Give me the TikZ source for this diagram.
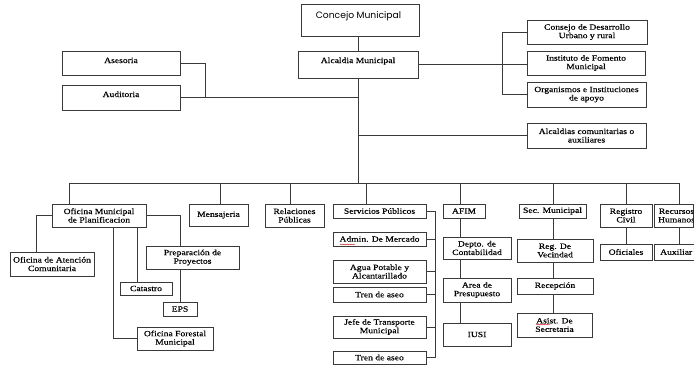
\documentclass[tikz,border=0pt]{standalone}
\usepackage{fontspec}
\setmainfont{Liberation Serif}[FakeStretch=1.2, FakeBold=0.4]
\newfontfamily\gothfont{Poppins}
\usetikzlibrary{decorations.pathmorphing}
\definecolor{ln}{HTML}{3A3A3A}
\begin{document}
\begin{tikzpicture}[x=1pt,y=-1pt,
  box/.style={draw=ln, line width=0.9pt, fill=white, inner sep=1pt, align=center,
              font=\fontsize{8}{8.5}\selectfont, text=black},
  sz/.style 2 args={minimum width=#1, minimum height=#2},
  lbl/.style={inner sep=0pt, align=center, font=\fontsize{8}{8.5}\selectfont, text=black},
  con/.style={draw=ln, line width=0.8pt},
  squig/.style={draw=red!80!black, line width=0.35pt, decorate,
                decoration={snake, amplitude=0.5pt, segment length=2.2pt}}]
\fill[white] (0,0) rectangle (694,365);
\clip (0,0) rectangle (694,365);

% ---- top ----
\node[box, sz={118}{32}] (concejo) at (360,20) {};
\node[lbl, anchor=base, font=\gothfont\fontsize{9.2}{10}\selectfont] (concejoT) at (358.5,18) {Concejo Municipal};
\node[box, sz={120}{27}] (alcaldia) at (358,64.5) {};
\node[lbl, anchor=base] (alcaldiaT) at (358,63) {Alcaldia Municipal};
\node[box, sz={118}{24}] (asesoria) at (121,63) {};
\node[lbl, anchor=base] (asesoriaT) at (121,63) {Asesoria};
\node[box, sz={118}{25}] (auditoria) at (121,97.5) {};
\node[lbl, anchor=base] (auditoriaT) at (121,97) {Auditoria};

\node[box, sz={120}{24}] (consejo) at (587,32) {Consejo de Desarrollo\\Urbano y rural};
\node[box, sz={118}{24}] (instituto) at (586,63) {Instituto de Fomento\\Municipal};
\node[box, sz={119}{25}] (organismos) at (586.5,94.5) {Organismos e Instituciones\\de apoyo};
\node[box, sz={119}{25}] (alcom) at (586.5,135.5) {Alcaldias comunitarias o\\auxiliares};

% ---- second level ----
\coordinate (busL) at (69,183);
\coordinate (busR) at (679,183);
\node[box, sz={94}{23}] (omp) at (99,215.5) {Oficina Municipal\\de Planificacion};
\node[box, sz={59}{22}] (mensajeria) at (218.5,215) {Mensajeria};
\node[box, sz={59}{23}] (relaciones) at (294.5,215.5) {Relaciones\\Públicas};
\node[box, sz={93}{14}] (servicios) at (379.5,211) {Servicios Públicos};
\node[box, sz={93}{14}] (admin) at (379.5,239) {Admin. De Mercado};
\node[box, sz={93}{23}] (agua) at (379.5,271.5) {Agua Potable y\\Alcantarillado};
\node[box, sz={93}{15}] (tren1) at (379.5,294.5) {Tren de aseo};
\node[box, sz={93}{22}] (jefe) at (379.5,327) {Jefe de Transporte\\Municipal};
\node[box, sz={93}{13}] (tren2) at (379.5,357.5) {Tren de aseo};

\node[box, sz={42}{14}] (afim) at (464,211) {AFIM};
\node[box, sz={68}{22}] (depto) at (477,248) {Depto. de\\Contabilidad};
\node[box, sz={68}{24}] (area) at (477,290) {Area de\\Presupuesto};
\node[box, sz={68}{23}] (iusi) at (477,334.5) {IUSI};

\node[box, sz={67}{14}] (secmun) at (552.5,211) {Sec. Municipal};
\node[box, sz={76}{23}] (regvec) at (555,250.5) {Reg. De\\Vecindad};
\node[box, sz={76}{16}] (recepcion) at (555,286) {Recepción};
\node[box, sz={75}{24}] (asist) at (554.5,325) {Asist. De\\Secretaria};

\node[box, sz={52}{23}] (registro) at (626,215.5) {Registro\\Civil};
\node[box, sz={52}{16}] (oficiales) at (626,252) {Oficiales};
\node[box, sz={39}{23}] (recursos) at (673.5,215.5) {};
\node[box, sz={41}{16}] (auxiliar) at (674.5,252) {};
\begin{scope}
  \clip (recursos.south west) rectangle (recursos.north east);
  \node[lbl] (recursosT) at (676.5,215.5) {Recursos\\Humanos};
\end{scope}
\begin{scope}
  \clip (auxiliar.south west) rectangle (auxiliar.north east);
  \node[lbl, anchor=west] (auxiliarT) at (660,252) {Auxiliar};
\end{scope}

% ---- planificacion children ----
\node[box, sz={84}{24}] (oac) at (52,264) {Oficina de Atención\\Comunitaria};
\node[box, sz={93}{23}] (prep) at (192.5,257.5) {Preparación de\\Proyectos};
\node[box, sz={52}{13}] (catastro) at (146,288.5) {Catastro};
\node[box, sz={34}{14}] (eps) at (180,309) {EPS};
\node[box, sz={76}{23}] (forestal) at (175,338.5) {Oficina Forestal\\Municipal};

% ---- connectors ----
\draw[con] (alcaldia.north) -- (alcaldia.north |- concejo.south);
\draw[con] (alcaldia.south) -- (alcaldia.south |- busL);
\draw[con] (asesoria.east) -- (205,0 |- asesoria.east) -- (205,0 |- auditoria.east);
\draw[con] (auditoria.east) -- (alcaldia.south |- auditoria.east);
\draw[con] (alcaldia.east) -- (instituto.west |- alcaldia.east);
\draw[con] (consejo.west) -- (502,0 |- consejo.west) -- (502,0 |- organismos.west) -- (organismos.west);
\draw[con] (alcaldia.south |- alcom.west) -- (alcom.west);

\draw[con] (busL) -- (busR);
\draw[con] (busL) -- (busL |- omp.north);
\draw[con] (220,0 |- busL) -- (220,0 |- mensajeria.north);
\draw[con] (290,0 |- busL) -- (290,0 |- relaciones.north);
\draw[con] (366,0 |- busL) -- (366,0 |- servicios.north);
\draw[con] (460,0 |- busL) -- (460,0 |- afim.north);
\draw[con] (553,0 |- busL) -- (553,0 |- secmun.north);
\draw[con] (registro.north |- busL) -- (registro.north);
\draw[con] (busR) -- (busR |- recursos.north);

\draw[con] (servicios.east) -- (435,0 |- servicios.east) -- (435,0 |- tren2.east) -- (tren2.east);
\foreach \n in {admin,agua,tren1,jefe}
  \draw[con] (\n.east) -- (435,0 |- \n.east);

\draw[con] (460,0 |- afim.south) -- (460,0 |- depto.north);
\draw[con] (460,0 |- depto.south) -- (460,0 |- area.north);
\draw[con] (460,0 |- area.south) -- (460,0 |- iusi.north);

\draw[con] (553,0 |- secmun.south) -- (553,0 |- regvec.north);
\draw[con] (553,0 |- regvec.south) -- (553,0 |- recepcion.north);
\draw[con] (553,0 |- recepcion.south) -- (553,0 |- asist.north);

\draw[con] (registro.south) -- (oficiales.north);
\draw[con] (679,0 |- recursos.south) -- (679,0 |- auxiliar.north);

\draw[con] (omp.west) -- (36,0 |- omp.west) -- (36,0 |- oac.north);
\draw[con] (omp.east) -| (180,0 |- prep.north);
\draw[con] (180,0 |- prep.south) -- (180,0 |- eps.north);
\draw[con] (137,0 |- omp.south) -- (137,0 |- catastro.north);
\draw[con] (113,0 |- omp.south) |- (forestal.west);

% spell-check squiggles
\draw[squig] (340,244.5) -- (355,244.5);
\draw[squig] (536,324.5) -- (550,324.5);
\end{tikzpicture}
\end{document}
